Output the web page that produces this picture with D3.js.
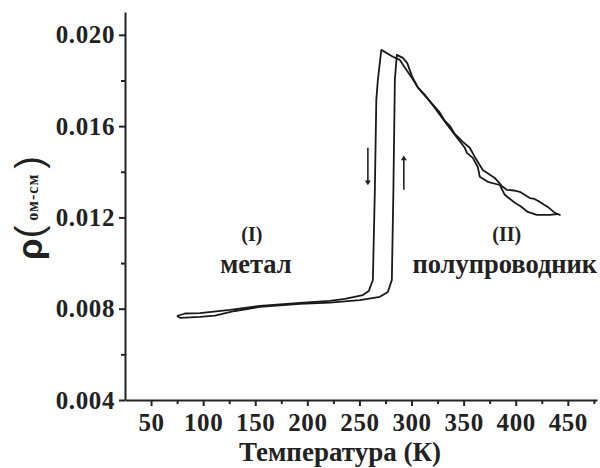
<!DOCTYPE html>
<html>
<head>
<meta charset="utf-8">
<script src="https://cdn.jsdelivr.net/npm/d3@7"></script>
<style>
  body { margin: 0; background: #fff; }
  svg { display: block; }
  text { font-family: "Liberation Serif", "Times New Roman", serif; font-weight: bold; fill: #222; }
</style>
</head>
<body>
<svg id="chart" width="600" height="468"></svg>
<script>
// ticks
var xTicks = [50, 100, 150, 200, 250, 300, 350, 400, 450];
var xMinor = [75, 125, 175, 225, 275, 325, 375, 425, 475];
var yTicks = [0.004, 0.008, 0.012, 0.016, 0.020];
var yMinor = [0.006, 0.010, 0.014, 0.018];

// cooling run (T in K, rho in ohm*cm), 440 K -> 75 K
var coolT = [440.3, 432.7, 420.2, 411.6, 405, 399.1, 389.5, 384.7, 373.2, 365.5, 363.6, 358.8, 353.1, 351.1,
  341.5, 332, 322.4, 312.8, 306, 300.3, 293, 288.8, 282.1, 271,
  267.7, 266.2, 264.8, 262.9, 259, 253.3, 236, 221.6, 192.9, 154.5, 125.7, 96.9, 82.6, 74.9];
var coolRho = [0.01215, 0.01211, 0.01211, 0.01224, 0.01248, 0.01264, 0.01299, 0.01342, 0.01356, 0.01378, 0.01421, 0.01461, 0.01483, 0.01505,
  0.01562, 0.01619, 0.0168, 0.01737, 0.01770, 0.01812, 0.01860, 0.0189, 0.01904, 0.01934,
  0.01803, 0.01715, 0.01321, 0.00926, 0.00878, 0.0086, 0.00843, 0.00834, 0.00825, 0.00812, 0.00795, 0.00781, 0.00779, 0.00768];

// heating run, 75 K -> 442 K
var heatT = [74.9, 77.8, 96.9, 111.3, 130.5, 154.5, 192.9, 221.6, 250.4, 269.6, 277.3, 281.1, 282.6, 284, 285.9,
  291.7, 296, 300.3, 306, 312.8, 317, 322.4, 327, 332, 337, 341.5, 349.2, 355.9, 360.7, 368.4, 379.9, 386.6, 391.4,
  398, 403.9, 413.5, 418, 423.1, 430.8, 437.5, 442.3, 440.3];
var heatRho = [0.00768, 0.0076, 0.00764, 0.0077, 0.0079, 0.00808, 0.00821, 0.00827, 0.00838, 0.00852, 0.00873, 0.00926, 0.01321, 0.01803, 0.01912,
  0.01899, 0.01875, 0.0182, 0.01770, 0.01733, 0.01712, 0.01684, 0.01660, 0.01623, 0.01600, 0.01566, 0.01531, 0.01505, 0.01465, 0.01408, 0.01373, 0.01338, 0.01321,
  0.01318, 0.01312, 0.01285, 0.01281, 0.01268, 0.01246, 0.0122, 0.01211, 0.01215];

// direction arrows [T, rho from, rho to]
var arrowDown = [258.1, 0.01505, 0.01351];
var arrowUp = [292.6, 0.01321, 0.01461];

const w = 600;
const h = 468;
const svg = d3.select('#chart');

const xScale = d3.scaleLinear().domain([25, 478]).range([125, 597]);
const yScale = d3.scaleLinear().domain([0.004, 0.021]).range([400, 12]);

svg.append('rect').attr('width', w).attr('height', h).attr('fill', '#fff');

// minor ticks
svg.append('g')
  .attr('transform', 'translate(0,400)')
  .call(d3.axisBottom(xScale).tickValues(xMinor).tickSize(4).tickFormat('').tickSizeOuter(0))
  .call(g => g.select('.domain').remove());
svg.append('g')
  .attr('transform', 'translate(125,0)')
  .call(d3.axisLeft(yScale).tickValues(yMinor).tickSize(4).tickFormat('').tickSizeOuter(0))
  .call(g => g.select('.domain').remove());

// major axes
svg.append('g')
  .attr('transform', 'translate(0,400)')
  .call(d3.axisBottom(xScale).tickValues(xTicks).tickSize(6).tickPadding(7).tickSizeOuter(0));
svg.append('g')
  .attr('transform', 'translate(125,0)')
  .call(d3.axisLeft(yScale).tickValues(yTicks).tickSize(6).tickPadding(4).tickSizeOuter(0).tickFormat(d3.format('.3f')));

svg.selectAll('.domain, .tick line').attr('stroke', '#222').attr('stroke-width', 2);
svg.selectAll('.tick text')
  .attr('font-size', 25)
  .attr('letter-spacing', 0.6)
  .attr('fill', '#222');

// curves
const line = d3.line().x(d => xScale(d[0])).y(d => yScale(d[1]));
const cool = coolT.map((t, i) => [t, coolRho[i]]);
const heat = heatT.map((t, i) => [t, heatRho[i]]);
[cool, heat].forEach(function(run){
  svg.append('path')
    .datum(run)
    .attr('d', line)
    .attr('fill', 'none')
    .attr('stroke', '#1a1a1a')
    .attr('stroke-width', 1.8)
    .attr('stroke-linejoin', 'round');
});

// arrows
svg.append('defs').append('marker')
  .attr('id', 'head')
  .attr('viewBox', '0 0 8 10')
  .attr('refX', 4).attr('refY', 5)
  .attr('markerWidth', 8).attr('markerHeight', 6)
  .attr('markerUnits', 'userSpaceOnUse')
  .attr('orient', 'auto')
  .append('path').attr('d', 'M0,0L8,5L0,10Z').attr('fill', '#222');
[arrowDown, arrowUp].forEach(function(a){
  svg.append('line')
    .attr('x1', xScale(a[0])).attr('x2', xScale(a[0]))
    .attr('y1', yScale(a[1])).attr('y2', yScale(a[2]))
    .attr('stroke', '#222').attr('stroke-width', 1.6)
    .attr('marker-end', 'url(#head)');
});

// region labels
svg.append('text').attr('x', xScale(146.8)).attr('y', yScale(0.01095))
  .attr('text-anchor', 'middle').attr('font-size', 20).text('(I)');
svg.append('text').attr('x', xScale(150.7)).attr('y', yScale(0.00955))
  .attr('text-anchor', 'middle').attr('font-size', 26.5).text('метал');
svg.append('text').attr('x', xScale(391.4)).attr('y', yScale(0.01095))
  .attr('text-anchor', 'middle').attr('font-size', 20).text('(II)');
svg.append('text').attr('x', xScale(389.5)).attr('y', yScale(0.00955))
  .attr('text-anchor', 'middle').attr('font-size', 26.5).text('полупроводник');

// axis titles
svg.append('text').attr('x', 340).attr('y', 461)
  .attr('text-anchor', 'middle').attr('font-size', 27).text('Температура (К)');

const yTitle = svg.append('text')
  .attr('transform', 'translate(42,208) rotate(-90)')
  .attr('text-anchor', 'middle');
yTitle.append('tspan').attr('font-family', '"Liberation Sans", sans-serif').attr('font-size', 35).text('ρ');
yTitle.append('tspan').attr('font-family', '"Liberation Sans", sans-serif').attr('font-weight', 'normal').attr('font-size', 38).text('(');
yTitle.append('tspan').attr('font-size', 16).attr('dy', -4).attr('letter-spacing', 1).text(' ом-см ');
yTitle.append('tspan').attr('font-family', '"Liberation Sans", sans-serif').attr('font-weight', 'normal').attr('font-size', 38).attr('dy', 4).text(')');
</script>
</body>
</html>
